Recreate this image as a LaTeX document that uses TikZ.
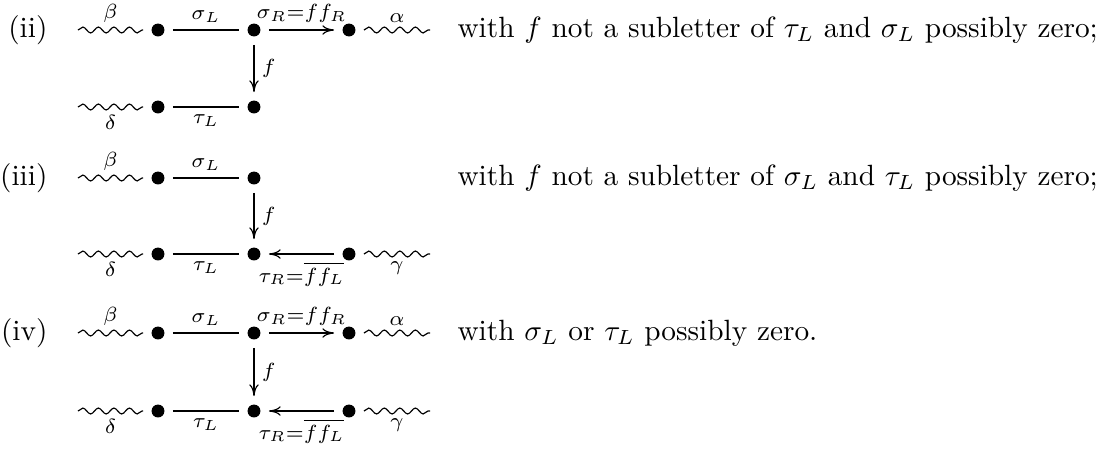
\documentclass[tikz,border=0pt]{standalone}
\usetikzlibrary{decorations.pathmorphing,arrows.meta}
\begin{document}
\begin{tikzpicture}[x=0.3413pt,y=-0.3413pt,
  dot/.style={circle,fill=black,inner sep=0pt,minimum size=4.4pt,outer sep=2.9pt},
  lbl/.style={inner sep=2.5pt},
  wave/.style={decorate,decoration={snake,amplitude=1pt,segment length=5.3pt}},
  arr/.style={-{Computer Modern Rightarrow[length=4pt,width=3.2pt]}},
  txt/.style={anchor=base west,inner sep=0pt},
  tag/.style={anchor=base east,inner sep=0pt}]
\useasboundingbox (0,0) rectangle (1096,450);

% ---------- (ii) ----------
\node[tag] (t2) at (48,37.5) {(ii)};
\coordinate (w2a) at (78,30);
\coordinate (w2b) at (78,107);
\coordinate (e2a) at (430,30);
\node[dot] (a2) at (158,30) {};
\node[dot] (b2) at (254,30) {};
\node[dot] (c2) at (349,30) {};
\node[dot] (a2d) at (158,107) {};
\node[dot] (b2d) at (254,107) {};
\draw[wave] (w2a) -- node[lbl,above] {$\scriptstyle\beta$} (a2);
\draw (a2) -- node[lbl,above] {$\scriptstyle\sigma_L$} (b2);
\draw[arr] (b2) -- node[lbl,above] {$\scriptstyle\sigma_R=ff_R$} (c2);
\draw[wave] (c2) -- node[lbl,above] {$\scriptstyle\alpha$} (e2a);
\draw[arr] (b2) -- node[lbl,right] {$\scriptstyle f$} (b2d);
\draw[wave] (w2b) -- node[lbl,below] {$\scriptstyle\delta$} (a2d);
\draw (a2d) -- node[lbl,below] {$\scriptstyle\tau_L$} (b2d);
\node[txt] (x2) at (457,37.5) {with $f$ not a subletter of $\tau_L$ and $\sigma_L$ possibly zero;};

% ---------- (iii) ----------
\node[tag] (t3) at (48,185.5) {(iii)};
\coordinate (w3a) at (78,178);
\coordinate (w3b) at (78,254);
\coordinate (e3b) at (430,254);
\node[dot] (a3) at (158,178) {};
\node[dot] (b3) at (254,178) {};
\node[dot] (a3d) at (158,254) {};
\node[dot] (b3d) at (254,254) {};
\node[dot] (c3d) at (349,254) {};
\draw[wave] (w3a) -- node[lbl,above] {$\scriptstyle\beta$} (a3);
\draw (a3) -- node[lbl,above] {$\scriptstyle\sigma_L$} (b3);
\draw[arr] (b3) -- node[lbl,right] {$\scriptstyle f$} (b3d);
\draw[wave] (w3b) -- node[lbl,below] {$\scriptstyle\delta$} (a3d);
\draw (a3d) -- node[lbl,below] {$\scriptstyle\tau_L$} (b3d);
\draw[arr] (c3d) -- node[lbl,below] {$\scriptstyle\tau_R=\overline{ff_L}$} (b3d);
\draw[wave] (c3d) -- node[lbl,below] {$\scriptstyle\gamma$} (e3b);
\node[txt] (x3) at (457,185.5) {with $f$ not a subletter of $\sigma_L$ and $\tau_L$ possibly zero;};

% ---------- (iv) ----------
\node[tag] (t4) at (48,340.5) {(iv)};
\coordinate (w4a) at (78,333);
\coordinate (w4b) at (78,411);
\coordinate (e4a) at (430,333);
\coordinate (e4b) at (430,411);
\node[dot] (a4) at (158,333) {};
\node[dot] (b4) at (254,333) {};
\node[dot] (c4) at (349,333) {};
\node[dot] (a4d) at (158,411) {};
\node[dot] (b4d) at (254,411) {};
\node[dot] (c4d) at (349,411) {};
\draw[wave] (w4a) -- node[lbl,above] {$\scriptstyle\beta$} (a4);
\draw (a4) -- node[lbl,above] {$\scriptstyle\sigma_L$} (b4);
\draw[arr] (b4) -- node[lbl,above] {$\scriptstyle\sigma_R=ff_R$} (c4);
\draw[wave] (c4) -- node[lbl,above] {$\scriptstyle\alpha$} (e4a);
\draw[arr] (b4) -- node[lbl,right] {$\scriptstyle f$} (b4d);
\draw[wave] (w4b) -- node[lbl,below] {$\scriptstyle\delta$} (a4d);
\draw (a4d) -- node[lbl,below] {$\scriptstyle\tau_L$} (b4d);
\draw[arr] (c4d) -- node[lbl,below] {$\scriptstyle\tau_R=\overline{ff_L}$} (b4d);
\draw[wave] (c4d) -- node[lbl,below] {$\scriptstyle\gamma$} (e4b);
\node[txt] (x4) at (457,340.5) {with $\sigma_L$ or $\tau_L$ possibly zero.};
\end{tikzpicture}
\end{document}
